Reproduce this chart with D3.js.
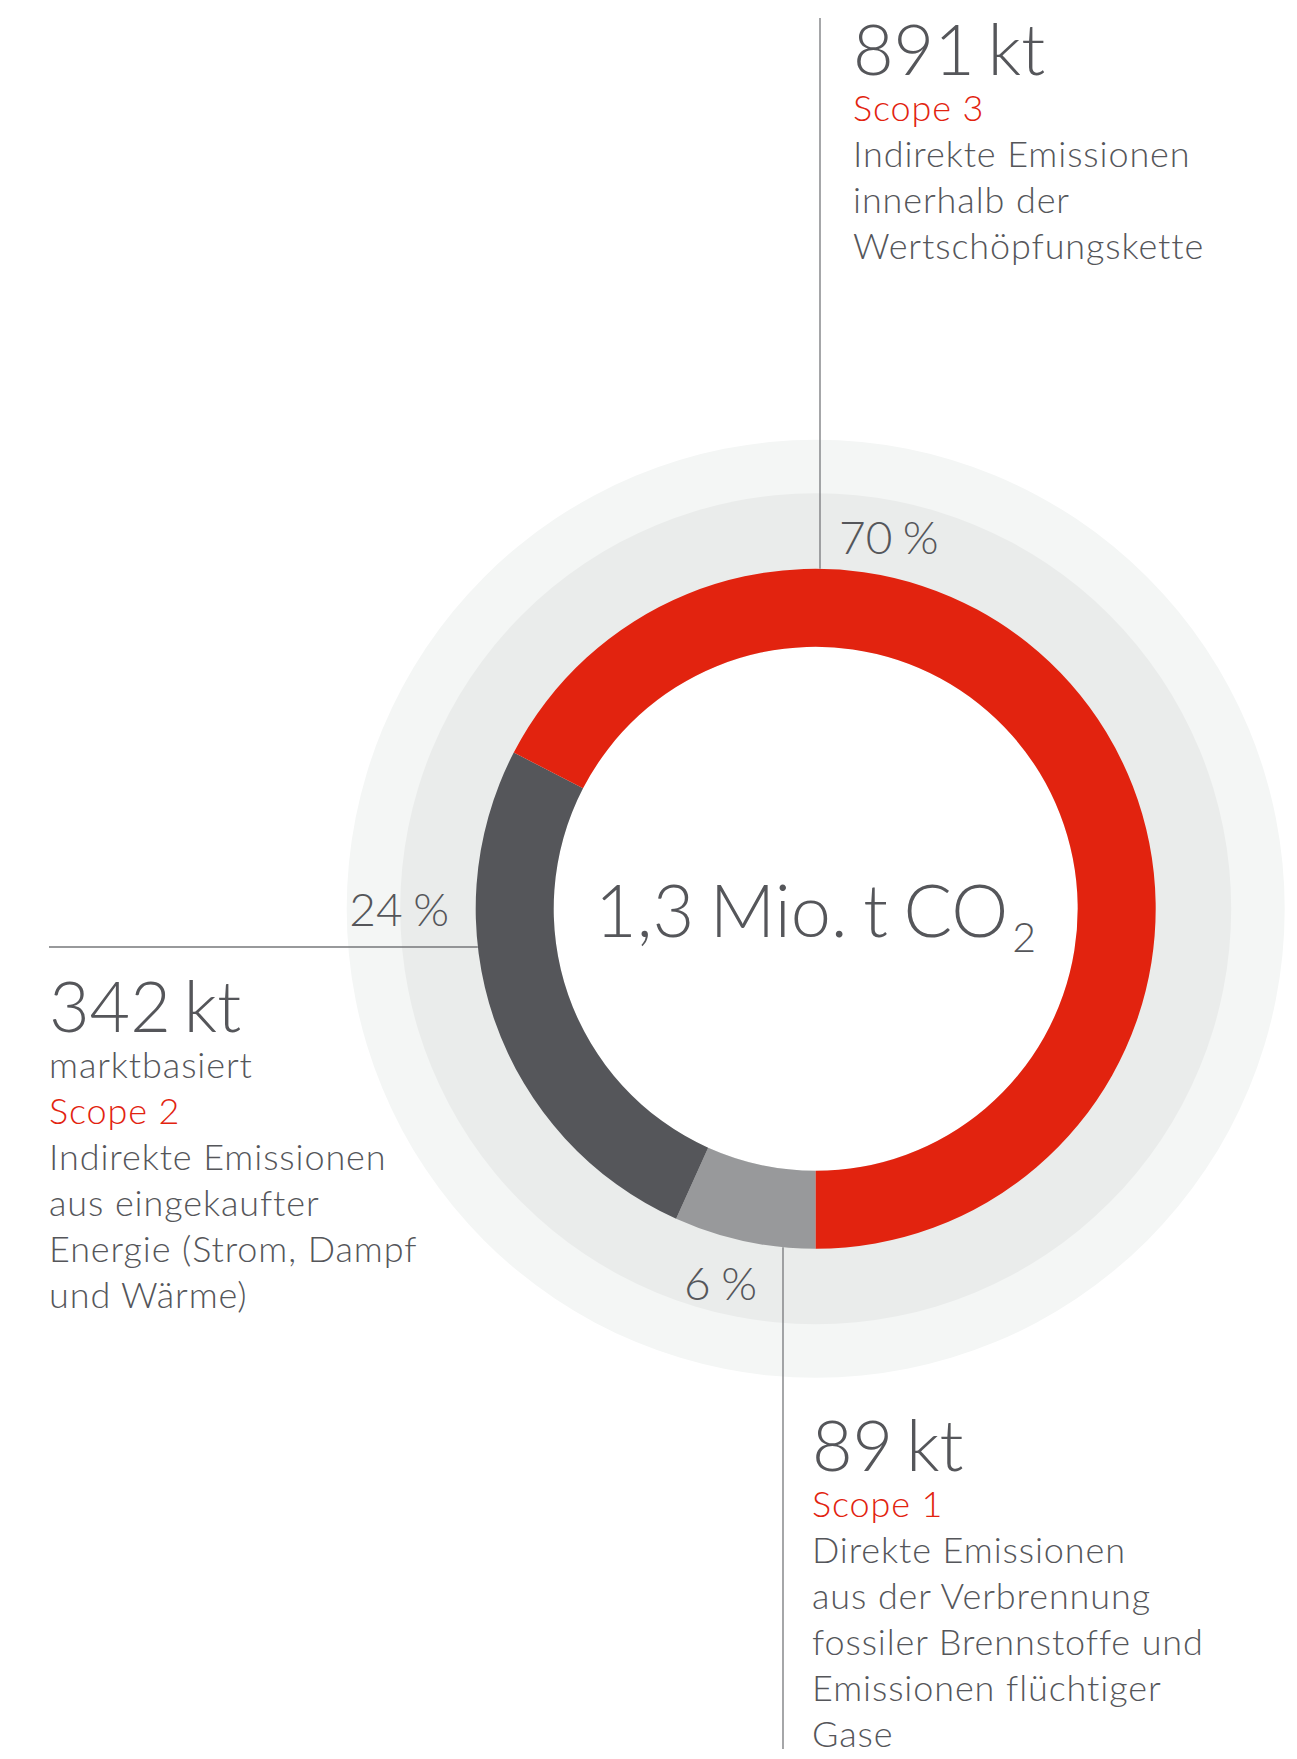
<!DOCTYPE html>
<html>
<head>
    <meta charset="utf-8">
    <title>CO2-Emissionen nach Scope</title>
    <script src="https://d3js.org/d3.v7.min.js"></script>
    <style>
        body { margin: 0; background: #fff; }
        text { font-family: "Lato", "Open Sans", sans-serif; font-weight: 300; fill: #55565a; }
        text.small { font-size: 36px; letter-spacing: 0.9px; }
        text.big { word-spacing: -6px; }
    </style>
</head>
<body>
    <div id="chart"></div>

    <script>
        // data
        const scopes = ["Scope 1", "Scope 2", "Scope 3"];
        const emissionsKt = [89, 342, 891];
        const amountLabels = ["89 kt", "342 kt", "891 kt"];
        const shareLabels = ["6 %", "24 %", "70 %"];
        const subLabels = ["", "marktbasiert", ""];
        const descriptions = [
            ["Direkte Emissionen", "aus der Verbrennung", "fossiler Brennstoffe und", "Emissionen flüchtiger", "Gase"],
            ["Indirekte Emissionen", "aus eingekaufter", "Energie (Strom, Dampf", "und Wärme)"],
            ["Indirekte Emissionen", "innerhalb der", "Wertschöpfungskette"]
        ];
        const totalLabel = "1,3 Mio. t CO";
        const totalSub = "2";

        const colors = ["#98999b", "#55565a", "#e2230f"];
        const red = "#e2230f";

        const width = 1297, height = 1759;
        const cx = 815.7, cy = 908.8;
        const rInner = 262, rOuter = 340, rBand = 415.5, rHalo = 469;
        const lineH = 46;

        const svg = d3.select("#chart").append("svg")
            .attr("width", width)
            .attr("height", height);

        const g = svg.append("g")
            .attr("transform", "translate(" + cx + "," + cy + ")");

        // background rings
        g.append("circle").attr("r", rHalo).attr("fill", "#f4f6f5");
        g.append("circle").attr("r", rBand).attr("fill", "#eaeceb");
        g.append("circle").attr("r", rInner).attr("fill", "#fff");

        const pie = d3.pie()
            .sort(null)
            .startAngle(Math.PI)
            .endAngle(3 * Math.PI);

        const arc = d3.arc()
            .innerRadius(rInner)
            .outerRadius(rOuter);

        const arcs = pie(emissionsKt);

        g.selectAll("path.slice")
            .data(arcs)
            .join("path")
              .attr("class", "slice")
              .attr("d", arc)
              .attr("fill", (d, i) => colors[i]);

        // centre label
        const total = g.append("text")
            .attr("x", 595 - cx)
            .attr("y", 937 - cy)
            .style("font-size", "72px")
            .style("word-spacing", "-4px");
        total.append("tspan").text(totalLabel);
        total.append("tspan")
            .attr("dy", 15)
            .attr("dx", 4)
            .style("font-size", "41px")
            .text(totalSub);

        // label layout per scope (index as in scopes)
        const layout = [
            { x: 812, y: 1471, lead: "down", lineX: 783, pctX: 757, pctY: 1300, pctAnchor: "end" },
            { x: 49, y: 1032, lead: "left", lineY: 947, pctX: 449, pctY: 926, pctAnchor: "end" },
            { x: 853, y: 75, lead: "up", lineX: 820, pctX: 839, pctY: 554, pctAnchor: "start" }
        ];

        // leader lines
        layout.forEach((L, i) => {
            let x1, y1, x2, y2;
            if (L.lead === "up") {
                const dx = L.lineX - cx;
                x1 = x2 = L.lineX;
                y1 = 18;
                y2 = cy - Math.sqrt(rOuter * rOuter - dx * dx);
            } else if (L.lead === "down") {
                const dx = L.lineX - cx;
                x1 = x2 = L.lineX;
                y1 = cy + Math.sqrt(rOuter * rOuter - dx * dx);
                y2 = 1749;
            } else {
                const dy = L.lineY - cy;
                y1 = y2 = L.lineY;
                x1 = 49;
                x2 = cx - Math.sqrt(rOuter * rOuter - dy * dy);
            }
            svg.append("line")
                .attr("x1", x1).attr("y1", y1)
                .attr("x2", x2).attr("y2", y2)
                .attr("stroke", "#76777a")
                .attr("stroke-width", 1.3);
        });

        // percentage labels
        svg.selectAll("text.pct")
            .data(shareLabels)
            .join("text")
              .attr("class", "pct")
              .attr("x", (d, i) => layout[i].pctX)
              .attr("y", (d, i) => layout[i].pctY)
              .attr("text-anchor", (d, i) => layout[i].pctAnchor)
              .style("font-size", "46px")
              .style("word-spacing", "-2px")
              .text(d => d);

        // text blocks
        scopes.forEach((s, i) => {
            const L = layout[i];
            const block = svg.append("g");
            block.append("text")
                .attr("class", "big")
                .attr("x", L.x)
                .attr("y", L.y)
                .style("font-size", "70px")
                .text(amountLabels[i]);

            let y = L.y + 46;
            if (subLabels[i]) {
                block.append("text")
                    .attr("class", "small")
                    .attr("x", L.x)
                    .attr("y", y)
                    .text(subLabels[i]);
                y += lineH;
            }
            block.append("text")
                .attr("class", "small")
                .attr("x", L.x)
                .attr("y", y)
                .style("fill", red)
                .text(s);
            descriptions[i].forEach(line => {
                y += lineH;
                block.append("text")
                    .attr("class", "small")
                    .attr("x", L.x)
                    .attr("y", y)
                    .text(line);
            });
        });
    </script>
</body>
</html>
